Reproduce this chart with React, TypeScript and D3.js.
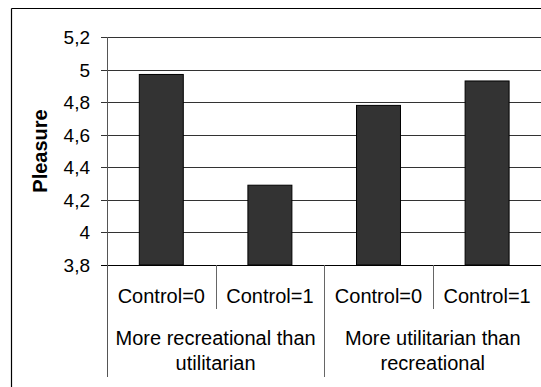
import React from "react";
import * as d3 from "d3";

const categories = ["Control=0", "Control=1", "Control=0", "Control=1"];
const groups = [
  ["More recreational than", "utilitarian"],
  ["More utilitarian than", "recreational"],
];
const values = [4.97, 4.29, 4.78, 4.93];
const yTicks = [3.8, 4, 4.2, 4.4, 4.6, 4.8, 5, 5.2];
const yLabel = "Pleasure";

const W = 541;
const H = 387;
const left = 107;
const right = 541.4;
const top = 37;
const bottom = 265;

export default function App() {
  const x = d3
    .scaleBand<number>()
    .domain(d3.range(categories.length))
    .range([left, right])
    .paddingInner(0)
    .paddingOuter(0);
  const bw = x.bandwidth();
  const barW = bw * 0.405;
  const y = d3.scaleLinear().domain([3.8, 5.2]).range([bottom, top]);
  const fmt = (v: number) => d3.format(".1~f")(v).replace(".", ",");
  const font = "'Liberation Sans', Arial, sans-serif";
  const groupW = bw * 2;

  return (
    <svg
      width={W}
      height={H}
      style={{ position: "absolute", left: 0, top: 0, background: "#fff" }}
      fontFamily={font}
    >
      <rect x={0} y={0} width={W} height={H} fill="#fff" />
      {/* outer frame */}
      <line x1={11.5} y1={8.5} x2={W} y2={8.5} stroke="#000" strokeWidth={1.2} />
      <line x1={11.5} y1={8.5} x2={11.5} y2={H} stroke="#000" strokeWidth={1.2} />

      {/* gridlines */}
      {yTicks.map((t) => (
        <line
          key={"g" + t}
          x1={left - 6}
          x2={right}
          y1={Math.round(y(t)) + 0.5}
          y2={Math.round(y(t)) + 0.5}
          stroke={t === 3.8 ? "#000" : "#333"}
          strokeWidth={1}
        />
      ))}
      {/* y tick labels */}
      {yTicks.map((t) => (
        <text
          key={"t" + t}
          x={90}
          y={Math.round(y(t)) + 7}
          textAnchor="end"
          fontSize={19}
          fill="#000"
        >
          {fmt(t)}
        </text>
      ))}
      {/* y axis line */}
      <line x1={left + 0.5} x2={left + 0.5} y1={top} y2={377} stroke="#555" strokeWidth={1} />

      {/* bars */}
      {values.map((v, i) => {
        const cx = (x(i) as number) + bw / 2;
        return (
          <rect
            key={"b" + i}
            x={cx - barW / 2}
            y={y(v)}
            width={barW}
            height={y(3.8) - y(v)}
            fill="#333333"
            stroke="#000"
            strokeWidth={1}
          />
        );
      })}

      {/* category separators */}
      {categories.map((c, i) => {
        if (i === 0) return null;
        const sx = Math.round(x(i) as number) + 0.5;
        const long = i % 2 === 0;
        return (
          <line
            key={"s" + i}
            x1={sx}
            x2={sx}
            y1={bottom}
            y2={long ? 377 : 309}
            stroke="#666"
            strokeWidth={1}
          />
        );
      })}

      {/* category labels */}
      {categories.map((c, i) => (
        <text
          key={"c" + i}
          x={(x(i) as number) + bw / 2}
          y={303}
          textAnchor="middle"
          fontSize={20}
          fill="#000"
        >
          {c}
        </text>
      ))}

      {/* group labels */}
      {groups.map((g, gi) => (
        <text
          key={"gr" + gi}
          x={left + groupW * gi + groupW / 2}
          textAnchor="middle"
          fontSize={20}
          fill="#000"
        >
          {g.map((line, li) => (
            <tspan key={li} x={left + groupW * gi + groupW / 2} y={345 + li * 25}>
              {line}
            </tspan>
          ))}
        </text>
      ))}

      {/* y axis title */}
      <text
        transform={`translate(47,151) rotate(-90)`}
        textAnchor="middle"
        fontSize={20}
        fontWeight="bold"
        fill="#000"
      >
        {yLabel}
      </text>
    </svg>
  );
}
